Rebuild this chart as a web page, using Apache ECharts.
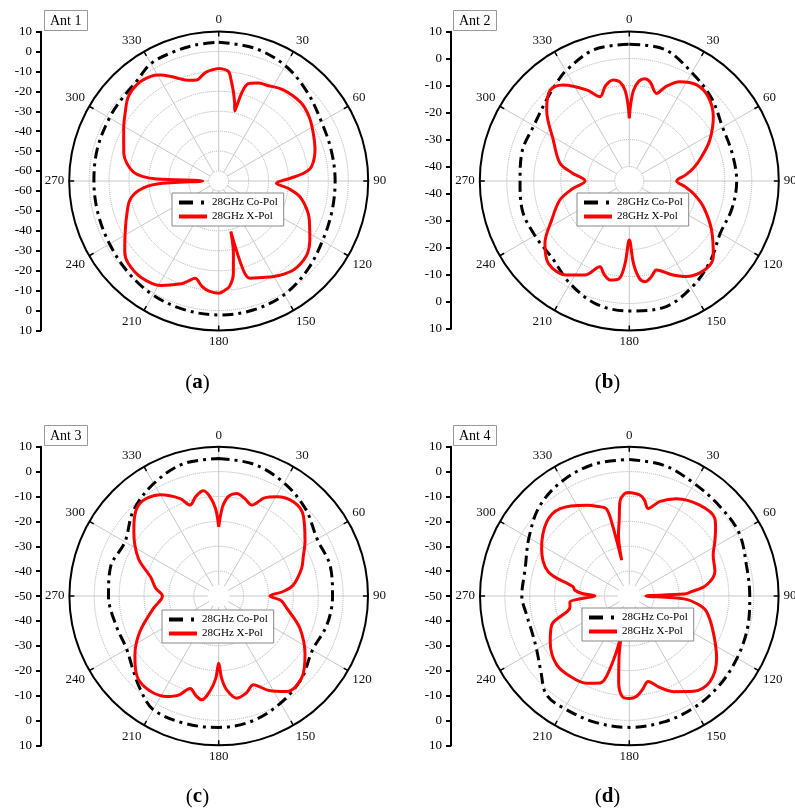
<!DOCTYPE html>
<html><head><meta charset="utf-8">
<script src="https://cdn.jsdelivr.net/npm/echarts@6/dist/echarts.min.js"></script>
<style>html,body{margin:0;padding:0;background:#fff}#c{width:795px;height:809px}</style>
</head><body><div id="c"></div>
<script>
// ---------- data (angle in degrees, gain in dB) ----------
const seriesNames = ['28GHz Co-Pol', '28GHz X-Pol'];
const panelTitles = ['Ant 1', 'Ant 2', 'Ant 3', 'Ant 4'];
const captionLetters = ['a', 'b', 'c', 'd'];

const ant1Ticks = ['10','0','-10','-20','-30','-40','-50','-60','-60','-50','-40','-30','-20','-10','0','10'];
const ant2Ticks = ['10','0','-10','-20','-30','-40','-40','-30','-20','-10','0','10'];
const ant3Ticks = ['10','0','-10','-20','-30','-40','-50','-40','-30','-20','-10','0','10'];
const ant4Ticks = ['10','0','-10','-20','-30','-40','-50','-40','-30','-20','-10','0','10'];

const ant1Co = [[0,4.6],[15,4.0],[30,1.8],[45,-2.1],[60,-5.5],[75,-6.5],[90,-6.6],[105,-6.2],[120,-4.9],[135,-2],[150,0.8],[165,2],[180,2.2],[195,1.8],[210,1],[225,-0.5],[240,-1.8],[255,-2.3],[270,-2.4],[285,-2],[300,-1.7],[310,-1.3],[320,-0.3],[330,3],[340,3.6],[350,4.2],[360,4.6]];
const ant1X = [[0,-8.5],[5,-9.8],[7,-14],[9.5,-20],[11.5,-25],[13,-29],[14.5,-20],[16,-15],[18,-13.5],[22,-12],[27,-11.2],[35,-9],[46,-8],[54,-9.2],[62,-11.5],[72,-14.2],[81,-17.8],[84.6,-22],[87.8,-29],[92.3,-36],[96,-30],[101,-23.5],[110,-17.2],[117,-13.8],[123,-10.5],[129,-7.6],[135,-6.6],[140,-6.7],[145,-8],[150,-9.7],[156,-12],[162,-13.7],[164.5,-18],[166.5,-39],[168.5,-28],[171,-18],[174,-12],[177,-10],[180,-8.7],[185,-9.5],[189,-11.5],[193.7,-14.8],[197,-12.5],[200,-10.2],[209,-5.1],[219,-2.9],[228,-3.7],[233,-6],[238,-9.5],[243,-12.5],[249,-15.5],[258,-19.5],[263.5,-25],[267.2,-34],[270,-57],[271.8,-34],[273.3,-27],[276,-22],[281,-18],[286,-15.5],[292,-13.6],[299,-10.5],[306,-7],[313,-3],[320,-1.5],[327,-2.4],[331,-4.2],[335,-7],[339,-10],[343,-12.2],[347.7,-13.2],[351,-11.5],[354,-9.8],[360,-8.5]];

const ant2Co = [[0,5.25],[15,5.1],[30,1],[45,-2.2],[60,-5.5],[75,-5.9],[90,-5.6],[105,-6],[120,-6.5],[135,-3.1],[150,0.4],[165,3.2],[180,2.8],[195,1.8],[210,-1.5],[225,-5],[240,-5],[255,-4.3],[270,-4.9],[285,-4.2],[300,-4.5],[315,-2.3],[323,-0.3],[330,1.7],[345,5],[360,5.25]];
const ant2X = [[0,-22.2],[1,-17],[2.7,-11.7],[5.5,-8.2],[8.7,-7.1],[12,-8],[17.3,-11.4],[21,-8],[27,-4.1],[35,-1.9],[43,-2.6],[52.6,-6.2],[63,-11.9],[71.4,-17.1],[78.8,-21.2],[84,-24.5],[90,-27.8],[96,-24.5],[101,-21.2],[109,-16.4],[120.8,-9.9],[132,-3.5],[139.6,-2.2],[149,-4.1],[156,-7.5],[163,-10.9],[167,-9],[171,-7.6],[174,-9],[177,-14.5],[180,-23.5],[183,-14.5],[186,-9],[191,-8],[195,-9.5],[199,-11.8],[205,-7],[213.7,-3.5],[224.5,-2.6],[233.5,-6.5],[243.3,-13.2],[254.7,-18.7],[262,-24],[270,-29],[278,-24],[284.3,-18.9],[298.3,-13.4],[310.7,-5],[318.8,-0.8],[325.5,-2.2],[334.9,-8.1],[340.8,-12.3],[346,-9],[351,-7.5],[354.5,-8.5],[357.3,-11.7],[359,-17],[360,-22.2]];

const ant3Co = [[0,5.25],[15,4.8],[30,2.5],[45,-0.6],[60,-4.3],[75,-3.6],[90,-4.25],[105,-5],[120,-6.5],[135,-3],[150,-0.3],[165,2],[180,2.8],[195,3],[210,2.7],[220,-1],[230,-4.8],[240,-7.3],[255,-7],[270,-5.7],[285,-5],[300,-6.5],[315,-1.5],[330,2.2],[345,5],[360,5.25]];
const ant3X = [[0,-22.2],[1.5,-17],[3,-13],[6,-9.5],[10,-8.2],[15,-9.5],[20,-11.1],[25,-6.5],[30.3,-3.8],[38.4,-1.7],[46.3,-3],[57.8,-9],[65,-12.5],[71.6,-14.9],[81.6,-19.7],[86,-24],[90,-29.4],[94,-25],[100,-22.3],[111.7,-14.9],[124.3,-8],[134.8,-3.1],[144.6,-2.9],[152,-7],[158.7,-11.7],[164,-9.5],[170,-8.3],[175,-12],[178,-17],[180,-23],[182,-17],[185,-12],[189.3,-7.7],[193,-9],[197.2,-11.1],[202,-7],[207.3,-4.5],[222.6,-3.2],[234.8,-8.8],[245.6,-15.2],[259.3,-23.3],[270,-27.4],[277,-24.5],[285.6,-21.6],[295,-14.4],[307,-7.3],[318.6,-1.3],[330.1,-3.1],[338.4,-7.9],[342.5,-11.7],[347,-9],[351.7,-7.3],[355,-10],[358,-15],[360,-22.2]];

const ant4Co = [[0,4.85],[15,4.3],[30,2.2],[45,1.2],[60,0.9],[75,-1.3],[90,-1.6],[105,-0.8],[120,0],[135,1],[150,1.9],[165,2.5],[180,2.8],[195,2.6],[210,2.2],[220,1.8],[230,-3.5],[240,-7],[250,-8.3],[260,-8],[270,-6.8],[285,-6.7],[300,-3.4],[315,1],[330,3.5],[345,4.85],[360,4.85]];
const ant4X = [[0,-8.4],[6,-9.2],[9,-11],[12.2,-14],[18,-10],[25.9,-6.5],[37.8,-3.8],[47.8,-3.6],[52,-6],[57.6,-9.3],[64,-12.5],[74,-14.2],[81.9,-18.7],[86,-25],[88,-28],[90,-43.3],[93,-28],[97,-22],[101.5,-18.3],[113,-13.4],[125.5,-6.9],[136.7,-2.7],[146,-3.8],[155.3,-7.7],[162,-11.5],[167.5,-14.8],[172,-12],[176,-9.5],[180,-8.8],[184,-9.5],[187,-15],[189.5,-25],[191.5,-34.7],[193.5,-25],[196,-16],[198.6,-13.1],[206,-11],[214.2,-10],[226.5,-9.8],[240,-13.3],[249.5,-16.7],[259.8,-25.8],[264,-26],[267,-31],[270,-36.2],[273,-31],[276,-28],[279.5,-27],[286.7,-16],[298.5,-9.9],[312,-5.4],[321.7,-5.2],[334.9,-9.7],[341,-12],[345.2,-13.7],[346.5,-19],[348,-35.3],[350,-25],[352.5,-19],[354.3,-12],[357.6,-8.7],[360,-8.4]];

// ---------- layout ----------
const FONT = '"Liberation Serif","Times New Roman",serif';
const panels = [
  {center:[218.7,181], radius:[10,149.5], min:-60, co:ant1Co, x:ant1X, ticks:ant1Ticks, axisX:41, top:31.7, h:298.6, legend:[172,193], title:[44,10], cap:[197.5,383], hole:0},
  {center:[629.3,181], radius:[14.5,149.5], min:-40, co:ant2Co, x:ant2X, ticks:ant2Ticks, axisX:451, top:31.7, h:297, legend:[577,193], title:[453,10], cap:[607.5,383], hole:0},
  {center:[218.7,596], radius:[0,149.3], min:-50, co:ant3Co, x:ant3X, ticks:ant3Ticks, axisX:41, top:446.7, h:298.8, legend:[162,610], title:[44,425], cap:[197.5,797], hole:11},
  {center:[629.3,596], radius:[0,149.3], min:-50, co:ant4Co, x:ant4X, ticks:ant4Ticks, axisX:451, top:446.7, h:298.8, legend:[582,608], title:[453,425], cap:[607.5,797], hole:11.5}
];

const option = {
  animation:false,
  backgroundColor:'#fff',
  polar:[], radiusAxis:[], angleAxis:[], grid:[], xAxis:[], yAxis:[], series:[], legend:[], title:[], graphic:[]
};

panels.forEach((p,i)=>{
  option.polar.push({center:p.center, radius:p.radius});
  option.radiusAxis.push({polarIndex:i, type:'value', min:p.min, max:10, interval:10,
    axisLine:{show:false}, axisTick:{show:false}, axisLabel:{show:false},
    splitLine:{show:true, lineStyle:{color:'#b0b0b0', type:'dotted', width:1}}});
  option.angleAxis.push({polarIndex:i, type:'value', min:0, max:360, interval:30, startAngle:90, clockwise:true,
    axisLine:{show:false}, axisTick:{show:false},
    axisLabel:{margin:5, color:'#111', fontFamily:FONT, fontSize:13, formatter:v=> v===360?'':String(v)},
    splitLine:{show:true, lineStyle:{color:'#c8c8c8', width:1}}});
});
panels.forEach((p,i)=>{
  option.polar.push({center:p.center, radius:[0, p.radius[1]]});
  option.radiusAxis.push({polarIndex:4+i, type:'value', min:p.min, max:10, show:false});
  option.angleAxis.push({polarIndex:4+i, type:'value', min:0, max:360, interval:30, startAngle:90, clockwise:true,
    axisLine:{show:true, lineStyle:{color:'#000', width:2}},
    axisTick:{show:true, inside:true, length:5, lineStyle:{color:'#000', width:1.5}},
    axisLabel:{show:false}, splitLine:{show:false}});
});

panels.forEach((p,i)=>{
  option.grid.push({left:p.axisX, top:p.top, width:1, height:p.h});
  option.xAxis.push({gridIndex:i, type:'value', show:false});
  const labels = p.ticks;
  option.yAxis.push({gridIndex:i, type:'value', inverse:true, min:0, max:labels.length-1, interval:1,
    axisLine:{show:true, lineStyle:{color:'#000', width:2}},
    axisTick:{show:true, length:5, lineStyle:{color:'#000', width:2}},
    axisLabel:{margin:9, fontSize:13, color:'#000', fontFamily:FONT, formatter:v=>labels[v]},
    splitLine:{show:false}});
  option.series.push({type:'line', name:seriesNames[0], coordinateSystem:'polar', polarIndex:i,
    data:p.co.map(d=>[d[1],d[0]]), symbol:'none', smooth:0.35,
    lineStyle:{color:'#000', width:3, type:[11,5,3,5]}, itemStyle:{color:'#000'}, z:2});
  option.series.push({type:'line', name:seriesNames[1], coordinateSystem:'polar', polarIndex:i,
    data:p.x.map(d=>[d[1],d[0]]), symbol:'none', smooth:0.35,
    lineStyle:{color:'#ff0000', width:3}, itemStyle:{color:'#ff0000'}, z:3});
  option.legend.push({left:p.legend[0], top:p.legend[1], orient:'vertical',
    data:[
      {name:seriesNames[0], lineStyle:{width:4, type:[14,8,3,5], color:'#000'}},
      {name:seriesNames[1], lineStyle:{width:4, color:'#ff0000'}}
    ],
    itemWidth:28, itemHeight:10, itemGap:3, padding:[4,6,4,5], borderColor:'#888', borderWidth:1,
    selectedMode:false, backgroundColor:'#fff',
    itemStyle:{color:'rgba(0,0,0,0)', borderColor:'rgba(0,0,0,0)', borderWidth:0, opacity:0},
    textStyle:{fontFamily:FONT, fontSize:11, color:'#000'}});
  option.title.push({text:panelTitles[i], left:p.title[0], top:p.title[1], padding:[3,6,2,6],
    borderColor:'#999', borderWidth:1,
    textStyle:{fontFamily:FONT, fontSize:14, fontWeight:'normal', color:'#000', lineHeight:16}});
  if (p.hole>0) option.graphic.push({type:'circle', shape:{cx:p.center[0], cy:p.center[1], r:p.hole}, style:{fill:'#fff'}, z:1, silent:true});
  option.graphic.push({type:'text', x:p.cap[0], y:p.cap[1], z:10,
    style:{text:'{p|(}{b|'+captionLetters[i]+'}{p|)}', align:'center', verticalAlign:'middle',
      rich:{p:{fontFamily:FONT, fontSize:21, fill:'#000'}, b:{fontFamily:FONT, fontSize:21, fontWeight:'bold', fill:'#000'}}}});
});

const chart = echarts.init(document.getElementById('c'), null, {renderer:'canvas'});
chart.setOption(option);
</script>
</body></html>
